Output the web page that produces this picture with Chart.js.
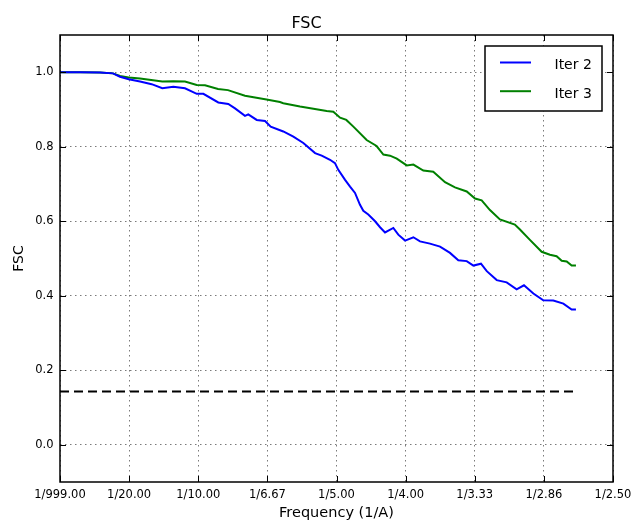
<!DOCTYPE html>
<html>
<head>
<meta charset="utf-8">
<title>FSC</title>
<script src="https://cdn.jsdelivr.net/npm/chart.js@4/dist/chart.umd.min.js"></script>
<style>
  html, body { margin: 0; padding: 0; background: #fff; }
  #wrap { width: 633px; height: 522px; }
</style>
</head>
<body>
<div id="wrap"><canvas id="fscChart" width="633" height="522"></canvas></div>
<script>
// =============================================================
// Data
// =============================================================
const xTickValues = [0, 0.05, 0.1, 0.15, 0.2, 0.25, 0.3, 0.35, 0.4];
const xTickLabels = ["1/999.00", "1/20.00", "1/10.00", "1/6.67", "1/5.00", "1/4.00", "1/3.33", "1/2.86", "1/2.50"];
const yTickValues = [0.0, 0.2, 0.4, 0.6, 0.8, 1.0];

const freqIter2 = [
  0.0, 0.0145, 0.0289, 0.0383, 0.0434, 0.0497, 0.0579, 0.0663, 0.0740, 0.0820,
  0.0904, 0.0989, 0.1037, 0.1145, 0.1217, 0.1266, 0.1338, 0.1362, 0.1423, 0.1483,
  0.1524, 0.1615, 0.1688, 0.1760, 0.1845, 0.1893, 0.1953, 0.1989, 0.2013, 0.2062,
  0.2098, 0.2134, 0.2170, 0.2194, 0.2230, 0.2279, 0.2315, 0.2351, 0.2411, 0.2447,
  0.2496, 0.2556, 0.2604, 0.2676, 0.2749, 0.2821, 0.2881, 0.2942, 0.2990, 0.3045,
  0.3087, 0.3159, 0.3231, 0.3303, 0.3356, 0.3424, 0.3496, 0.3568, 0.3641, 0.3701,
  0.3732
];
const fscIter2 = [
  1.000, 1.000, 0.999, 0.997, 0.988, 0.981, 0.975, 0.968, 0.957, 0.961,
  0.957, 0.942, 0.942, 0.919, 0.915, 0.903, 0.883, 0.887, 0.872, 0.869,
  0.854, 0.841, 0.827, 0.810, 0.783, 0.776, 0.765, 0.756, 0.738, 0.711,
  0.693, 0.676, 0.644, 0.628, 0.618, 0.600, 0.584, 0.570, 0.582, 0.564,
  0.548, 0.557, 0.546, 0.540, 0.532, 0.515, 0.495, 0.493, 0.481, 0.486,
  0.466, 0.442, 0.436, 0.417, 0.428, 0.406, 0.388, 0.387, 0.379, 0.363,
  0.363
];

const freqIter3 = [
  0.0, 0.0145, 0.0289, 0.0383, 0.0434, 0.0497, 0.0579, 0.0740, 0.0820, 0.0904,
  0.0989, 0.1049, 0.1143, 0.1215, 0.1338, 0.1494, 0.1591, 0.1615, 0.1736, 0.1833,
  0.1929, 0.1977, 0.2026, 0.2071, 0.2122, 0.2218, 0.2290, 0.2339, 0.2387, 0.2436,
  0.2508, 0.2556, 0.2628, 0.2700, 0.2785, 0.2857, 0.2942, 0.3002, 0.3050, 0.3110,
  0.3182, 0.3290, 0.3327, 0.3399, 0.3484, 0.3544, 0.3592, 0.3629, 0.3665, 0.3701,
  0.3732
];
const fscIter3 = [
  1.000, 1.000, 0.999, 0.997, 0.990, 0.986, 0.983, 0.975, 0.976, 0.975,
  0.966, 0.965, 0.955, 0.952, 0.937, 0.927, 0.920, 0.917, 0.908, 0.902,
  0.896, 0.894, 0.878, 0.872, 0.854, 0.818, 0.802, 0.779, 0.776, 0.768,
  0.750, 0.752, 0.736, 0.733, 0.705, 0.691, 0.680, 0.661, 0.656, 0.630,
  0.605, 0.591, 0.578, 0.550, 0.518, 0.510, 0.506, 0.494, 0.492, 0.481,
  0.481
];

// 0.143 threshold, drawn over the same frequency span as the curves
const thresholdFreq = [0.0, 0.3732];
const thresholdValue = [0.143, 0.143];

const FONT = "'DejaVu Sans', 'Liberation Sans', sans-serif";

function toPoints(xs, ys) {
  return xs.map((x, i) => ({ x: x, y: ys[i] }));
}

// =============================================================
// Frame, inward ticks and the boxed legend (matplotlib look)
// =============================================================
const framePlugin = {
  id: "frame",
  afterDraw(chart) {
    const { ctx, chartArea: a } = chart;
    const xs = chart.scales.x;
    const ys = chart.scales.y;
    ctx.save();

    // inward tick marks on all four sides
    ctx.strokeStyle = "#000";
    ctx.lineWidth = 1;
    ctx.beginPath();
    xTickValues.forEach((v) => {
      const px = Math.round(xs.getPixelForValue(v)) + 0.5;
      ctx.moveTo(px, a.bottom); ctx.lineTo(px, a.bottom - 6);
      ctx.moveTo(px, a.top); ctx.lineTo(px, a.top + 6);
    });
    yTickValues.forEach((v) => {
      const py = Math.round(ys.getPixelForValue(v)) + 0.5;
      ctx.moveTo(a.left, py); ctx.lineTo(a.left + 6, py);
      ctx.moveTo(a.right, py); ctx.lineTo(a.right - 6, py);
    });
    ctx.stroke();

    // axes box
    ctx.lineWidth = 1.5;
    ctx.strokeRect(a.left, a.top, a.right - a.left, a.bottom - a.top);

    // legend box, top right inside the axes
    const bw = 117, bh = 65;
    const bx = a.right - 11 - bw;
    const by = a.top + 11;
    ctx.fillStyle = "#fff";
    ctx.fillRect(bx, by, bw, bh);
    ctx.lineWidth = 1.5;
    ctx.strokeRect(bx, by, bw, bh);

    const entries = chart.data.datasets.slice(0, 2);
    ctx.font = "14px " + FONT;
    ctx.textBaseline = "middle";
    ctx.textAlign = "left";
    entries.forEach((ds, i) => {
      const ly = by + 16.5 + i * 28.7;
      ctx.strokeStyle = ds.borderColor;
      ctx.lineWidth = 2;
      ctx.beginPath();
      ctx.moveTo(bx + 15, ly);
      ctx.lineTo(bx + 46, ly);
      ctx.stroke();
      ctx.fillStyle = "#000";
      ctx.fillText(ds.label, bx + 69.5, ly + 3);
    });

    ctx.restore();
  },
};

// =============================================================
// Build the chart
// =============================================================
function renderChart() {
  const ctx = document.getElementById("fscChart");

  new Chart(ctx, {
    type: "line",
    data: {
      datasets: [
        {
          label: "Iter 2",
          data: toPoints(freqIter2, fscIter2),
          borderColor: "#0000ff",
          borderWidth: 2,
          pointRadius: 0,
          tension: 0,
          fill: false,
        },
        {
          label: "Iter 3",
          data: toPoints(freqIter3, fscIter3),
          borderColor: "#008000",
          borderWidth: 2,
          pointRadius: 0,
          tension: 0,
          fill: false,
        },
        {
          label: "threshold",
          data: toPoints(thresholdFreq, thresholdValue),
          borderColor: "#000",
          borderWidth: 2,
          borderDash: [9, 5],
          pointRadius: 0,
          fill: false,
        },
      ],
    },
    options: {
      responsive: false,
      animation: false,
      events: [],
      layout: { padding: { left: 0, right: 20, top: 0, bottom: 0 } },
      plugins: {
        legend: { display: false },
        tooltip: { enabled: false },
        title: {
          display: true,
          text: "FSC",
          color: "#000",
          font: { family: FONT, size: 16, weight: "normal" },
          padding: { top: 14, bottom: 1.8 },
        },
      },
      scales: {
        x: {
          type: "linear",
          min: 0,
          max: 0.4,
          afterBuildTicks: (scale) => {
            scale.ticks = xTickValues.map((v) => ({ value: v }));
          },
          afterFit: (scale) => {
            scale.height = 40;
            // let the layout padding decide the right edge, not the last label
            scale.paddingLeft = 0;
            scale.paddingRight = 0;
          },
          ticks: {
            autoSkip: false,
            maxRotation: 0,
            padding: 6,
            color: "#000",
            font: { family: FONT, size: 11.5 },
            callback: (value, index) => xTickLabels[index],
          },
          grid: {
            color: "#7a7a7a",
            lineWidth: 1,
            drawTicks: false,
          },
          border: { display: false, dash: [1.5, 3.5] },
          title: {
            display: true,
            text: "Frequency (1/A)",
            color: "#000",
            font: { family: FONT, size: 14.5 },
            padding: { top: 0, bottom: 0 },
          },
        },
        y: {
          type: "linear",
          min: -0.1,
          max: 1.1,
          afterBuildTicks: (scale) => {
            scale.ticks = yTickValues.map((v) => ({ value: v }));
          },
          afterFit: (scale) => {
            scale.width = 60;
            scale.paddingTop = 0;
            scale.paddingBottom = 0;
          },
          ticks: {
            padding: 6.5,
            color: "#000",
            font: { family: FONT, size: 11.5 },
            callback: (value) => value.toFixed(1),
          },
          grid: {
            color: "#7a7a7a",
            lineWidth: 1,
            drawTicks: false,
          },
          border: { display: false, dash: [1.5, 3.5] },
          title: {
            display: true,
            text: "FSC",
            color: "#000",
            font: { family: FONT, size: 14 },
            padding: { top: 10.6, bottom: 0 },
          },
        },
      },
    },
    plugins: [framePlugin],
  });
}

document.addEventListener("DOMContentLoaded", renderChart);
</script>
</body>
</html>
